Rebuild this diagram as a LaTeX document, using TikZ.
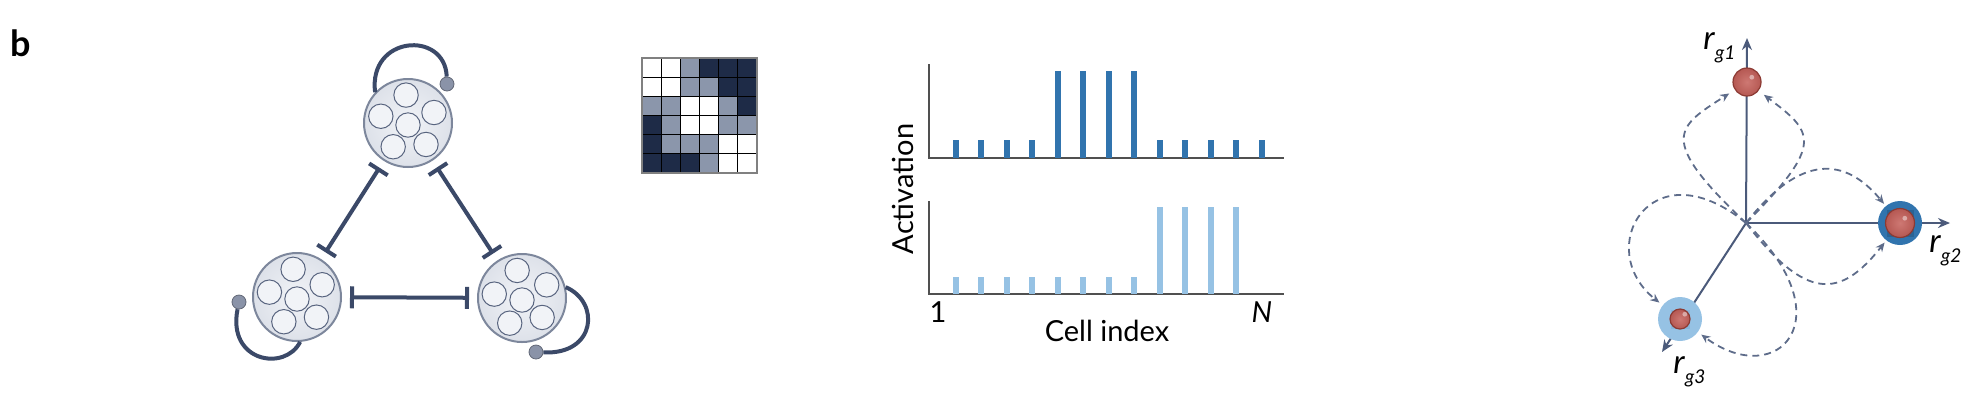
\documentclass[tikz,border=0pt]{standalone}
\usepackage{fontspec}
\setmainfont{Lato}
\usetikzlibrary{arrows.meta}

\definecolor{navy}{HTML}{3B4968}
\definecolor{cellline}{HTML}{7D879C}
\definecolor{cellin}{HTML}{F1F3F7}
\definecolor{cellout}{HTML}{DDE1E9}
\definecolor{knobgray}{HTML}{8A93A8}
\definecolor{m0}{HTML}{FFFFFF}
\definecolor{m1}{HTML}{8B96AB}
\definecolor{m2}{HTML}{1E2B47}
\definecolor{bardark}{HTML}{3174AE}
\definecolor{barlight}{HTML}{96C2E4}
\definecolor{axisgray}{HTML}{505050}
\definecolor{slate}{HTML}{4B5A7A}
\definecolor{flowgray}{HTML}{5E6C8A}
\definecolor{ballred}{HTML}{C5605A}
\definecolor{ballrim}{HTML}{8C3A33}

\def \cellSize {44pt}
\def \knobSize {7pt}
\def \neuronRadius {6.1pt}
\def \barHalf {2.85}

\newcommand{\rlab}[1]{{\fontsize{16.5}{18}\selectfont\textit{r}}\raisebox{-5pt}{\fontsize{9.5}{10}\selectfont\textit{g#1}}}

\tikzset{
  cell/.style={circle, draw=cellline, line width=1pt, inner color=cellin, outer color=cellout, minimum size=\cellSize, inner sep=0pt},
  neuron/.style={draw=navy!85, line width=0.5pt, fill=cellin},
  inhib/.style={draw=navy, line width=2pt, {Bar[width=11pt]}-{Bar[width=11pt]}, shorten <=4pt, shorten >=4pt},
  selfloop/.style={draw=navy, line width=2pt},
  knob/.style={circle, fill=knobgray, draw=knobgray!70!black, line width=0.4pt, minimum size=\knobSize, inner sep=0pt},
  axisline/.style={draw=axisgray, line width=1pt},
  axisarrow/.style={draw=slate, line width=1pt, -{Stealth[length=6pt,width=5pt]}},
  flow/.style={draw=flowgray, line width=0.9pt, dash pattern=on 3.5pt off 2.5pt, -{Stealth[length=4.5pt,width=4pt]}},
  ring/.style={circle, minimum size=22pt, inner sep=0pt},
  redball/.style={circle, inner color=ballred!85!white, outer color=ballred!92!black, draw=ballrim, line width=0.6pt, inner sep=0pt},
  label/.style={inner sep=0pt}
}

\begin{document}
\begin{tikzpicture}[x=0.5pt, y=-0.5pt, font=\fontsize{14.5}{17}\selectfont]
  \useasboundingbox (0,0) rectangle (1979,393);

  \node[label, anchor=base west, font=\fontsize{18}{18}\selectfont\bfseries] (panel) at (10,56) {b};

  \node[cell] (T) at (408,123) {};
  \node[cell] (L) at (297,297) {};
  \node[cell] (R) at (522,298) {};
  \foreach \c/\t in {T/-4, L/-8, R/-10} {
    \draw[neuron] (\c) ++(0,2) circle (\neuronRadius);
    \foreach \a in {-90,-18,54,126,198}
      \draw[neuron] (\c) ++(\a+\t:28) circle (\neuronRadius);
  }
  \draw[inhib] (T) -- (L);
  \draw[inhib] (T) -- (R);
  \draw[inhib] (L) -- (R);

  \node[knob] (tk) at (447,84) {};
  \node[knob] (lk) at (239,302) {};
  \node[knob] (rk) at (536,352) {};
  \draw[selfloop] (T.137) .. controls +(-7,-57) and +(-2,-54) .. (tk);
  \draw[selfloop] (L.-86) .. controls +(-15,30) and +(-12,60) .. (lk);
  \draw[selfloop] (R.14) .. controls +(35,15) and +(60,3) .. (rk);

  \foreach \vals [count=\r from 0] in {{0,0,1,2,2,2},{0,0,1,1,2,2},{1,1,0,0,1,2},{2,1,0,0,1,1},{2,1,1,1,0,0},{2,2,2,1,0,0}}
    \foreach \v [count=\c from 0] in \vals
      \filldraw[fill=m\v, draw=black, line width=0.5pt] (642+19.17*\c, 58+19.17*\r) rectangle ++(19.17,19.17);
  \draw[gray, line width=0.8pt] (642,58) rectangle (757,173);

  \draw[axisline] (929,64) -- (929,158) -- (1284,158);
  \foreach \h [count=\i from 0] in {18,18,18,18,87,87,87,87,18,18,18,18,18}
    \fill[bardark] (955.7+25.5*\i-\barHalf,158) rectangle ++(2*\barHalf,-\h);
  \draw[axisline] (929,201) -- (929,294) -- (1284,294);
  \foreach \h [count=\i from 0] in {17,17,17,17,17,17,17,17,87,87,87,87}
    \fill[barlight] (955.7+25.5*\i-\barHalf,294) rectangle ++(2*\barHalf,-\h);

  \node[label, rotate=90, anchor=base] (act) at (913,189) {Activation};
  \node[label, anchor=base] (one) at (938,322) {1};
  \node[label, anchor=base] (last) at (1262,322) {\textit{N}};
  \node[label, anchor=base] (cellidx) at (1107,341) {Cell index};

  \coordinate (O) at (1746,223);
  \coordinate (e1) at (1747,38);
  \coordinate (e2) at (1950,223);
  \coordinate (e3) at (1662,352);
  \draw[axisarrow] (O) -- (e1);
  \draw[axisarrow] (O) -- (e2);
  \draw[axisarrow] (O) -- (e3);

  \node[ring, fill=bardark] (g2ring) at (1900,223) {};
  \node[ring, fill=barlight] (g3ring) at (1680,319) {};
  \fill[bardark!85!black] (g2ring) +(-6.75pt,-6.75pt) rectangle +(6.75pt,6.75pt);
  \fill[barlight!85!bardark] (g3ring) +(-4.75pt,-4.75pt) rectangle +(4.75pt,4.75pt);
  \node[redball, minimum size=14pt] (g1) at (1747,82) {};
  \node[redball, minimum size=14.5pt] (g2) at (1900,223) {};
  \node[redball, minimum size=10pt] (g3) at (1680,319) {};
  \foreach \b in {g1,g2,g3}
    \fill[white, opacity=0.45] (\b) ++(2.4pt,2.4pt) circle (1.2pt);

  \draw[flow, shorten >=3.3pt] (O) .. controls +(-90,-85) and +(-70,45) .. (g1);
  \draw[flow, shorten >=3.3pt] (O) .. controls +(80,-80) and +(66,50) .. (g1);
  \draw[flow, shorten >=1.3pt] (O) .. controls +(55,-70) and +(-55,-66) .. (g2ring);
  \draw[flow, shorten >=1.3pt] (O) .. controls +(60,78) and +(-60,76) .. (g2ring);
  \draw[flow, shorten >=2pt] (O) .. controls +(100,95) and +(98,72) .. (g3ring);
  \draw[flow, shorten >=2pt] (O) .. controls +(-95,-78) and +(-88,-70) .. (g3ring);

  \node[label, anchor=base west] (l1) at (1703,49) {\rlab{1}};
  \node[label, anchor=base west] (l2) at (1929,252) {\rlab{2}};
  \node[label, anchor=base west] (l3) at (1673,373) {\rlab{3}};
\end{tikzpicture}
\end{document}
